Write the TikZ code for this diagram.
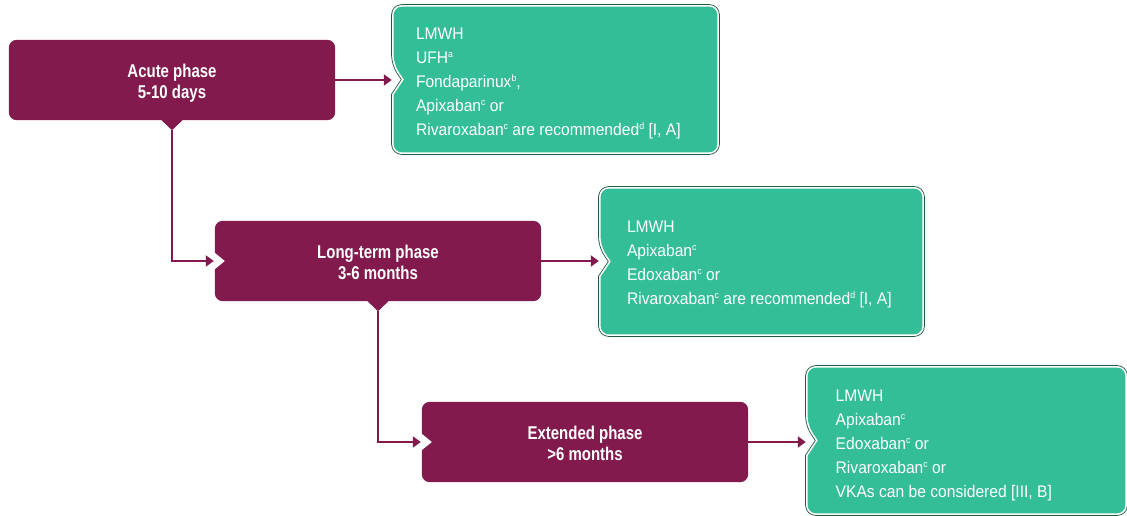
\documentclass[tikz,border=0pt]{standalone}
\usepackage{fontspec}
\setmainfont{Liberation Sans}
\newfontfamily\gfont[FakeStretch=0.93]{Liberation Sans}
\newfontfamily\pfont[FakeStretch=0.81]{Liberation Sans}
\usetikzlibrary{arrows.meta,calc,backgrounds}
\definecolor{pcol}{HTML}{821A4D}
\definecolor{gcol}{HTML}{33BE98}
\definecolor{gdark}{HTML}{1D5C3C}
\newcommand\ptopstrut{\rule{0pt}{20pt}}
\newcommand\pbotstrut{\rule[-4pt]{0pt}{4pt}}
\newcommand\supx[1]{\raisebox{6pt}{\fontsize{9.5}{9.5}\selectfont #1}}
\tikzset{
  pbox/.style={minimum width=326pt, minimum height=80pt, inner sep=0pt, text=white,
    align=center, font=\pfont\bfseries\fontsize{18.5}{20.5}\selectfont},
  gbox/.style={inner sep=0pt, minimum height=147pt},
  gtext/.style={inner sep=0pt, anchor=north west, text=white, align=left,
    font=\gfont\fontsize{16.8}{24}\selectfont},
  conn/.style={draw=pcol, line width=2pt, -{Triangle[length=8pt,width=11pt]}, shorten >=1pt},
}
\begin{document}
\begin{tikzpicture}[x=1pt,y=-1pt]
\useasboundingbox (0,0) rectangle (1127,516);

% phase boxes
\node[pbox] (acute) at (172,80) {\ptopstrut Acute phase\\5-10 days\pbotstrut};
\node[pbox] (long) at (378,261) {\ptopstrut Long-term phase\\3-6 months\pbotstrut};
\node[pbox] (ext) at (585,442) {\ptopstrut Extended phase\\>6 months\pbotstrut};

% recommendation boxes
\node[gbox, minimum width=325pt] (g1) at (555.5,79.5) {};
\node[gbox, minimum width=323pt] (g2) at (761.5,261.5) {};
\node[gbox, minimum width=319pt] (g3) at (966.5,440.5) {};

\begin{scope}[on background layer]
  \foreach \n in {acute,long,ext}
    \fill[pcol, rounded corners=8pt] (\n.north west) rectangle (\n.south east);
  \foreach \n in {long,ext}
    \fill[white] ($(\n.west)+(-1,-9)$) -- ($(\n.west)+(10,0)$) -- ($(\n.west)+(-1,9)$) -- cycle;
  \foreach \n in {acute,long}
    \fill[pcol] ($(\n.south)+(-11,-0.5)$) -- ($(\n.south)+(0,10)$) -- ($(\n.south)+(11,-0.5)$) -- cycle;
  \foreach \n in {g1,g2,g3} {
    \draw[gdark, line width=3.2pt]
      (\n.north) [rounded corners=9pt] -- (\n.north west) -- ($(\n.west)+(0,-15)$)
      [sharp corners] -- ($(\n.west)+(10,0)$) -- ($(\n.west)+(0,15)$)
      [rounded corners=9pt] -- (\n.south west) -- (\n.south east) -- (\n.north east) -- cycle;
    \fill[gcol]
      (\n.north) [rounded corners=9pt] -- (\n.north west) -- ($(\n.west)+(0,-15)$)
      [sharp corners] -- ($(\n.west)+(10,0)$) -- ($(\n.west)+(0,15)$)
      [rounded corners=9pt] -- (\n.south west) -- (\n.south east) -- (\n.north east) -- cycle;
    \draw[white, line width=1.5pt]
      (\n.north) [rounded corners=9pt] -- (\n.north west) -- ($(\n.west)+(0,-15)$)
      [sharp corners] -- ($(\n.west)+(10,0)$) -- ($(\n.west)+(0,15)$)
      [rounded corners=9pt] -- (\n.south west) -- (\n.south east) -- (\n.north east) -- cycle;
  }
\end{scope}

\node[gtext] (g1t) at ($(g1.north west)+(23,21.5)$)
  {LMWH\\UFH\supx{a}\\Fondaparinux\supx{b},\\Apixaban\supx{c} or\\Rivaroxaban\supx{c} are recommended\supx{d} [I, A]};
\node[gtext] (g2t) at ($(g2.north west)+(27,33)$)
  {LMWH\\Apixaban\supx{c}\\Edoxaban\supx{c} or\\Rivaroxaban\supx{c} are recommended\supx{d} [I, A]};
\node[gtext] (g3t) at ($(g3.north west)+(28.7,23)$)
  {LMWH\\Apixaban\supx{c}\\Edoxaban\supx{c} or\\Rivaroxaban\supx{c} or\\VKAs can be considered [III, B]};

% connectors
\draw[conn] (acute.east) -- (acute.east -| g1.west);
\draw[conn] ($(acute.south)+(0,10)$) |- (long.west);
\draw[conn] (long.east) -- (long.east -| g2.west);
\draw[conn] ($(long.south)+(0,10)$) |- (ext.west);
\draw[conn] (ext.east) -- (ext.east -| g3.west);
\end{tikzpicture}
\end{document}
